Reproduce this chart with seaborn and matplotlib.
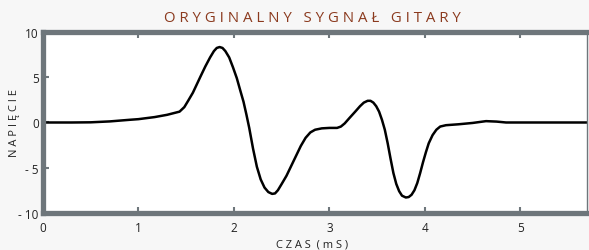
import matplotlib
matplotlib.use("Agg")
import matplotlib.pyplot as plt
import seaborn as sns
import pandas as pd

# odczytane punkty sygnału gitary
czas = [0.0, 0.3, 0.5, 0.7, 0.91, 1.0, 1.17, 1.3, 1.43, 1.48, 1.52, 1.57, 1.61, 1.65, 1.70, 1.75,
        1.79, 1.82, 1.85, 1.88, 1.91, 1.95, 1.99, 2.03, 2.07, 2.10, 2.13, 2.16, 2.20, 2.24,
        2.28, 2.32, 2.36, 2.40, 2.43, 2.46, 2.50, 2.55, 2.60, 2.65, 2.70, 2.75, 2.80, 2.85,
        2.92, 3.0, 3.08, 3.12, 3.16, 3.21, 3.27, 3.32, 3.36, 3.40, 3.43, 3.46, 3.49, 3.52,
        3.55, 3.58, 3.61, 3.64, 3.67, 3.70, 3.73, 3.76, 3.80, 3.83, 3.86, 3.89, 3.92, 3.95,
        3.98, 4.01, 4.04, 4.08, 4.12, 4.16, 4.22, 4.35, 4.50, 4.64, 4.75, 4.85, 5.0, 5.3, 5.7]
napiecie = [0.0, 0.0, 0.02, 0.12, 0.3, 0.37, 0.6, 0.85, 1.2, 1.7, 2.4, 3.3, 4.2, 5.1, 6.2, 7.2,
            7.9, 8.25, 8.35, 8.25, 7.9, 7.2, 6.1, 4.9, 3.4, 2.3, 0.9, -0.6, -2.9, -4.9,
            -6.3, -7.2, -7.7, -7.9, -7.85, -7.5, -6.8, -5.9, -4.8, -3.7, -2.6, -1.7, -1.1, -0.8,
            -0.65, -0.6, -0.6, -0.45, -0.1, 0.5, 1.2, 1.8, 2.2, 2.4, 2.4, 2.2, 1.8, 1.2,
            0.3, -0.8, -2.3, -4.0, -5.6, -6.8, -7.6, -8.1, -8.3, -8.25, -8.0, -7.5, -6.7, -5.6,
            -4.4, -3.3, -2.3, -1.4, -0.8, -0.45, -0.3, -0.2, -0.05, 0.15, 0.1, 0.0, 0.0, 0.0, 0.0]

df = pd.DataFrame({"czas": czas, "napiecie": napiecie})

sns.set_style("white")
plt.rcParams["font.family"] = ["Open Sans", "DejaVu Sans"]

szary = "#6e767b"
fig = plt.figure(figsize=(5.89, 2.51), dpi=100, facecolor="#f7f7f7")
ax = fig.add_axes([0.073, 0.148, 0.924, 0.72])
ax.set_facecolor("white")

sns.lineplot(data=df, x="czas", y="napiecie", color="black", linewidth=1.8, ax=ax)

ax.set_xlim(0, 5.7)
ax.set_ylim(-10, 10)
ax.set_xticks([0, 1, 2, 3, 4, 5])
ax.set_yticks([-10, -5, 0, 5, 10])
ax.set_yticklabels(["- 10", "- 5", "0", "5", "10"])

for s in ["left", "bottom", "top"]:
    ax.spines[s].set_color(szary)
    ax.spines[s].set_linewidth(3.8)
ax.spines["right"].set_color(szary)
ax.spines["right"].set_linewidth(1.0)

ax.tick_params(axis="both", direction="in", color=szary, length=4, width=1.5,
               labelsize=8.5, labelcolor="#222222", top=True, left=True, bottom=True)
ax.tick_params(axis="x", pad=6)
ax.tick_params(axis="y", pad=3)

ax.set_xlabel("C Z A S  ( m S )", fontsize=8, color="#222222")
ax.set_ylabel("N A P I Ę C I E", fontsize=8, color="#222222")
ax.xaxis.set_label_coords(0.494, -0.17)
ax.yaxis.set_label_coords(-0.053, 0.5)
ax.xaxis.label.set_va("center")
ax.yaxis.label.set_va("center")

fig.text(0.53, 0.928, "O R Y G I N A L N Y   S Y G N A Ł   G I T A R Y",
         ha="center", va="center", fontsize=10.8, color="#8b3a1e")

fig.savefig("out.png", dpi=100, facecolor=fig.get_facecolor())
